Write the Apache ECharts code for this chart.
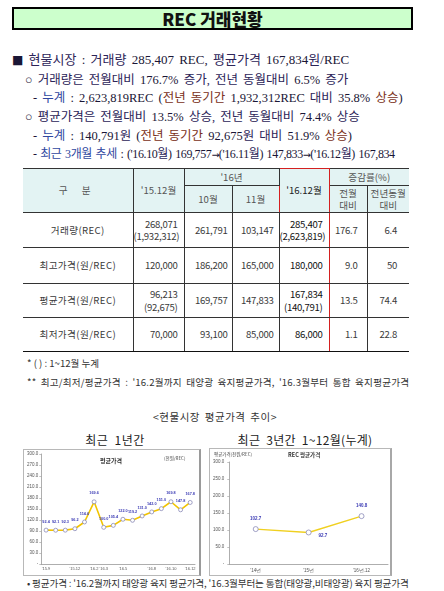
<!DOCTYPE html>
<html><head><meta charset="utf-8">
<script src="https://cdn.jsdelivr.net/npm/echarts@6/dist/echarts.min.js"></script>
<style>
html,body{margin:0;padding:0;background:#fff;width:444px;height:591px;overflow:hidden;}
body{position:relative;font-family:"Noto Sans CJK KR",sans-serif;}
.abs{position:absolute;white-space:nowrap;}
.ln{font-family:"Liberation Serif","Noto Sans CJK KR",serif;color:#1a1636;line-height:16px;height:16px;word-spacing:2px;}
.k{color:#2c2458;}
.b{color:#2f47a0;}
.r{color:#7a3020;}
.ar{font-family:"DejaVu Sans";font-size:9.5px;letter-spacing:-0.5px;}
#title{left:12px;top:7px;width:397px;height:19px;background:#ccffcc;border:2px solid #000;text-align:center;font-weight:900;font-size:17px;line-height:19px;color:#111;}
table{position:absolute;left:23px;top:168px;width:386px;border-collapse:collapse;table-layout:fixed;font-size:9.6px;color:#3a3a3a;letter-spacing:-0.3px;}
td{border:1px solid #333;padding:0;text-align:right;line-height:12.5px;overflow:hidden;white-space:nowrap;}
td.h{background:#e3f3f3;text-align:center;color:#555;letter-spacing:0;line-height:12.5px;}
td.lab{text-align:center;border-left:none;letter-spacing:0.4px;}
td.first{border-left:none;}
td.last{border-right:none;}
td.red{border-left:1px solid #d42020;border-right:1px solid #d42020;color:#111;}
td.redtop{border-top:1px solid #d42020;}
tr.bot td{border-bottom:1.5px solid #111;}
.note{font-size:9.6px;color:#333;line-height:12px;}
.frame{position:absolute;border:1px solid #b8b8b8;background:#fff;}
</style></head>
<body>
<div id="title" class="abs">REC 거래현황</div>
<div class="abs ln" style="left:12px;top:52px;font-size:13px;"><span style="font-family:'DejaVu Sans';font-size:12px;">■</span> <span class="k">현물시장</span> : <span class="k">거래량</span> 285,407 REC, <span class="k">평균가격</span> 167,834<span class="k">원</span>/REC</div>
<div class="abs ln" style="left:25px;top:72px;font-size:12.5px;">○ <span class="k">거래량은 전월대비</span> 176.7% <span class="k">증가,</span> <span class="k">전년 동월대비</span> 6.5% <span class="k">증가</span></div>
<div class="abs ln" style="left:33px;top:90px;font-size:12.5px;">- <span class="b">누계</span> : 2,623,819REC (<span class="r">전년 동기간</span> 1,932,312REC <span class="k">대비</span> 35.8% <span class="r">상승</span>)</div>
<div class="abs ln" style="left:25px;top:109px;font-size:12.5px;">○ <span class="k">평균가격은 전월대비</span> 13.5% <span class="k">상승,</span> <span class="k">전년 동월대비</span> 74.4% <span class="k">상승</span></div>
<div class="abs ln" style="left:33px;top:128px;font-size:12.5px;">- <span class="b">누계</span> : 140,791<span class="k">원</span> (<span class="r">전년 동기간</span> 92,675<span class="k">원</span> <span class="k">대비</span> 51.9% <span class="r">상승</span>)</div>
<div class="abs ln" style="left:33px;top:146px;font-size:12px;letter-spacing:-0.4px;word-spacing:1px;">- <span class="b">최근 3개월 추세</span> : ('16.10<span class="k">월</span>) 169,757<span class="ar">→</span>('16.11<span class="k">월</span>) 147,833<span class="ar">→</span>('16.12<span class="k">월</span>) 167,834</div>

<table id="tbl"></table>

<div class="abs note" style="left:27px;top:357px;">* ( ) : 1~12월 누계</div>
<div class="abs note" style="left:27px;top:376px;letter-spacing:0.2px;word-spacing:2px;">** 최고/최저/평균가격 : '16.2월까지 태양광 육지평균가격, '16.3월부터 통합 육지평균가격</div>
<div class="abs note" style="left:0;width:430px;text-align:center;top:411px;font-size:10.5px;letter-spacing:0.5px;word-spacing:2px;">&lt;현물시장 평균가격 추이&gt;</div>
<div class="abs" style="left:55px;width:120px;text-align:center;top:432px;font-size:12px;line-height:15px;color:#222;letter-spacing:0.5px;word-spacing:3px;">최근 1년간</div>
<div class="abs" style="left:225px;width:160px;text-align:center;top:432px;font-size:12px;line-height:15px;color:#222;letter-spacing:0.3px;word-spacing:3px;">최근 3년간 1~12월(누계)</div>

<div class="frame" style="left:23px;top:449px;width:175px;height:125px;border-right:2px solid #9a9a9a;"><div id="c1" style="width:175px;height:125px;"></div></div>
<div class="frame" style="left:209px;top:448px;width:180px;height:126px;border-right:2px solid #a8a8a8;"><div id="c2" style="width:180px;height:126px;"></div></div>

<div class="abs note" style="left:27px;top:577px;font-size:9.6px;letter-spacing:-0.15px;">• 평균가격 : '16.2월까지 태양광 육지 평균가격, '16.3월부터는 통합(태양광,비태양광) 육지 평균가격</div>

<script>
// ---- Table data ----
const rowLabels = ['거래량(REC)', '최고가격(원/REC)', '평균가격(원/REC)', '최저가격(원/REC)'];
const colDec15 = ['268,071<br>(1,932,312)', '120,000', '96,213<br>(92,675)', '70,000'];
const colOct16 = ['261,791', '186,200', '169,757', '93,100'];
const colNov16 = ['103,147', '165,000', '147,833', '85,000'];
const colDec16 = ['285,407<br>(2,623,819)', '180,000', '167,834<br>(140,791)', '86,000'];
const colMoM = ['176.7', '9.0', '13.5', '1.1'];
const colYoY = ['6.4', '50', '74.4', '22.8'];

// ---- Left chart (최근 1년간) ----
const leftMonths = ["'15.9", "'15.10", "'15.11", "'15.12", "'16.1", "'16.2", "'16.3", "'16.4",
                    "'16.5", "'16.6", "'16.7", "'16.8", "'16.9", "'16.10", "'16.11", "'16.12"];
const leftPrices = [92.4, 92.1, 92.3, 96.2, 114.6, 169.6, 100.0, 105.4,
                    122.0, 119.2, 131.0, 142.0, 151.0, 169.8, 147.8, 167.8];
const leftShownLabels = [0, 3, 5, 6, 8, 11, 13, 15];

// ---- Right chart (최근 3년간 1~12월 누계) ----
const rightYears = ["'14년", "'15년", "'16년.12"];
const rightPrices = [102.7, 92.7, 140.8];
const rightLabelPos = ['top', 'right', 'top'];

// build table
(function(){
  const colW = [110, 51, 48, 47, 50, 38, 42];
  let h = '<colgroup>' + colW.map(w => '<col style="width:' + w + 'px">').join('') + '</colgroup>';
  h += '<tr style="height:17px">' +
       '<td class="h first" rowspan="2" style="border-top:1px solid #333;letter-spacing:6px">구 분</td>' +
       '<td class="h" rowspan="2">\'15.12월</td>' +
       '<td class="h" colspan="2">\'16년</td>' +
       '<td class="h red redtop" rowspan="2" style="color:#222">\'16.12월</td>' +
       '<td class="h last" colspan="2">증감률(%)</td></tr>';
  h += '<tr style="height:27px">' +
       '<td class="h">10월</td><td class="h">11월</td>' +
       '<td class="h">전월<br>대비</td><td class="h last">전년동월<br>대비</td></tr>';
  const heights = [35, 36, 34, 34];
  for (let i = 0; i < rowLabels.length; i++) {
    h += '<tr' + (i === rowLabels.length - 1 ? ' class="bot"' : '') + ' style="height:' + heights[i] + 'px">' +
      '<td class="lab">' + rowLabels[i] + '</td>' +
      '<td style="padding-right:6px">' + colDec15[i] + '</td>' +
      '<td style="padding-right:4px">' + colOct16[i] + '</td>' +
      '<td style="padding-right:5px">' + colNov16[i] + '</td>' +
      '<td class="red" style="padding-right:6px">' + colDec16[i] + '</td>' +
      '<td style="padding-right:9px">' + colMoM[i] + '</td>' +
      '<td class="last" style="padding-right:12px">' + colYoY[i] + '</td></tr>';
  }
  document.getElementById('tbl').innerHTML = h;
})();

const c1 = echarts.init(document.getElementById('c1'), null, {renderer: 'canvas'});
c1.setOption({
  animation: false,
  grid: {left: 13, right: 4, top: 4, bottom: 11},
  graphic: [
    {type: 'text', left: 76, top: 8, style: {text: '평균가격', fontSize: 6, fontWeight: 'bold', fill: '#333', fontFamily: 'Noto Sans CJK KR'}},
    {type: 'text', left: 140, top: 6, style: {text: '(천원/REC)', fontSize: 4.5, fill: '#444', fontFamily: 'Noto Sans CJK KR'}}
  ],
  xAxis: {
    type: 'category', data: leftMonths, boundaryGap: true,
    axisLine: {lineStyle: {color: '#999', width: 0.8}},
    axisTick: {show: false},
    axisLabel: {fontSize: 4, color: '#555', margin: 3, interval: (i) => leftShownLabels.indexOf(i) >= 0}
  },
  yAxis: {
    type: 'value', min: 0, max: 300, interval: 30,
    axisLine: {show: true, lineStyle: {color: '#999', width: 0.8}},
    axisTick: {show: true, length: 2, lineStyle: {color: '#999', width: 0.6}},
    splitLine: {show: false},
    axisLabel: {fontSize: 4.5, color: '#555', margin: 3, formatter: v => v === 0 ? '-' : v.toFixed(1)}
  },
  series: [{
    type: 'line', data: leftPrices, symbol: 'circle', symbolSize: 4,
    itemStyle: {color: '#fff', borderColor: '#8a8ab8', borderWidth: 0.8},
    lineStyle: {color: '#f2c400', width: 1.6},
    label: {show: true, position: 'top', distance: 4, fontSize: 3.8, color: '#3a3ab4', fontWeight: 'bold',
            formatter: p => p.value.toFixed(1)}
  }]
});

const c2 = echarts.init(document.getElementById('c2'), null, {renderer: 'canvas'});
c2.setOption({
  animation: false,
  grid: {left: 17, right: 2, top: 13, bottom: 11},
  graphic: [
    {type: 'text', left: 4, top: 3, style: {text: '평균가격(천원/REC)', fontSize: 4.5, fill: '#444', fontFamily: 'Noto Sans CJK KR'}},
    {type: 'text', left: 78, top: 3, style: {text: 'REC 평균가격', fontSize: 5.5, fontWeight: 'bold', fill: '#333', fontFamily: 'Noto Sans CJK KR'}}
  ],
  xAxis: {
    type: 'category', data: rightYears, boundaryGap: true,
    axisLine: {lineStyle: {color: '#999', width: 0.8}},
    axisTick: {show: false},
    axisLabel: {fontSize: 4.5, color: '#555', margin: 4}
  },
  yAxis: {
    type: 'value', min: 0, max: 300, interval: 50,
    axisLine: {show: true, lineStyle: {color: '#999', width: 0.8}},
    axisTick: {show: true, length: 2, lineStyle: {color: '#999', width: 0.6}},
    splitLine: {show: false},
    axisLabel: {fontSize: 4.5, color: '#555', margin: 5, formatter: v => v === 0 ? '-' : v.toFixed(1)}
  },
  series: [{
    type: 'line', symbol: 'circle', symbolSize: 5,
    data: rightPrices.map((v, i) => ({value: v, label: {position: rightLabelPos[i], offset: i === 1 ? [2, 3] : [0, 0]}})),
    itemStyle: {color: '#fff', borderColor: '#8a8ab8', borderWidth: 0.8},
    lineStyle: {color: '#f0d020', width: 1.4},
    label: {show: true, distance: 5, fontSize: 4.5, color: '#3a3ab4', fontWeight: 'bold',
            formatter: p => p.value.toFixed(1)}
  }]
});
</script>
</body></html>
